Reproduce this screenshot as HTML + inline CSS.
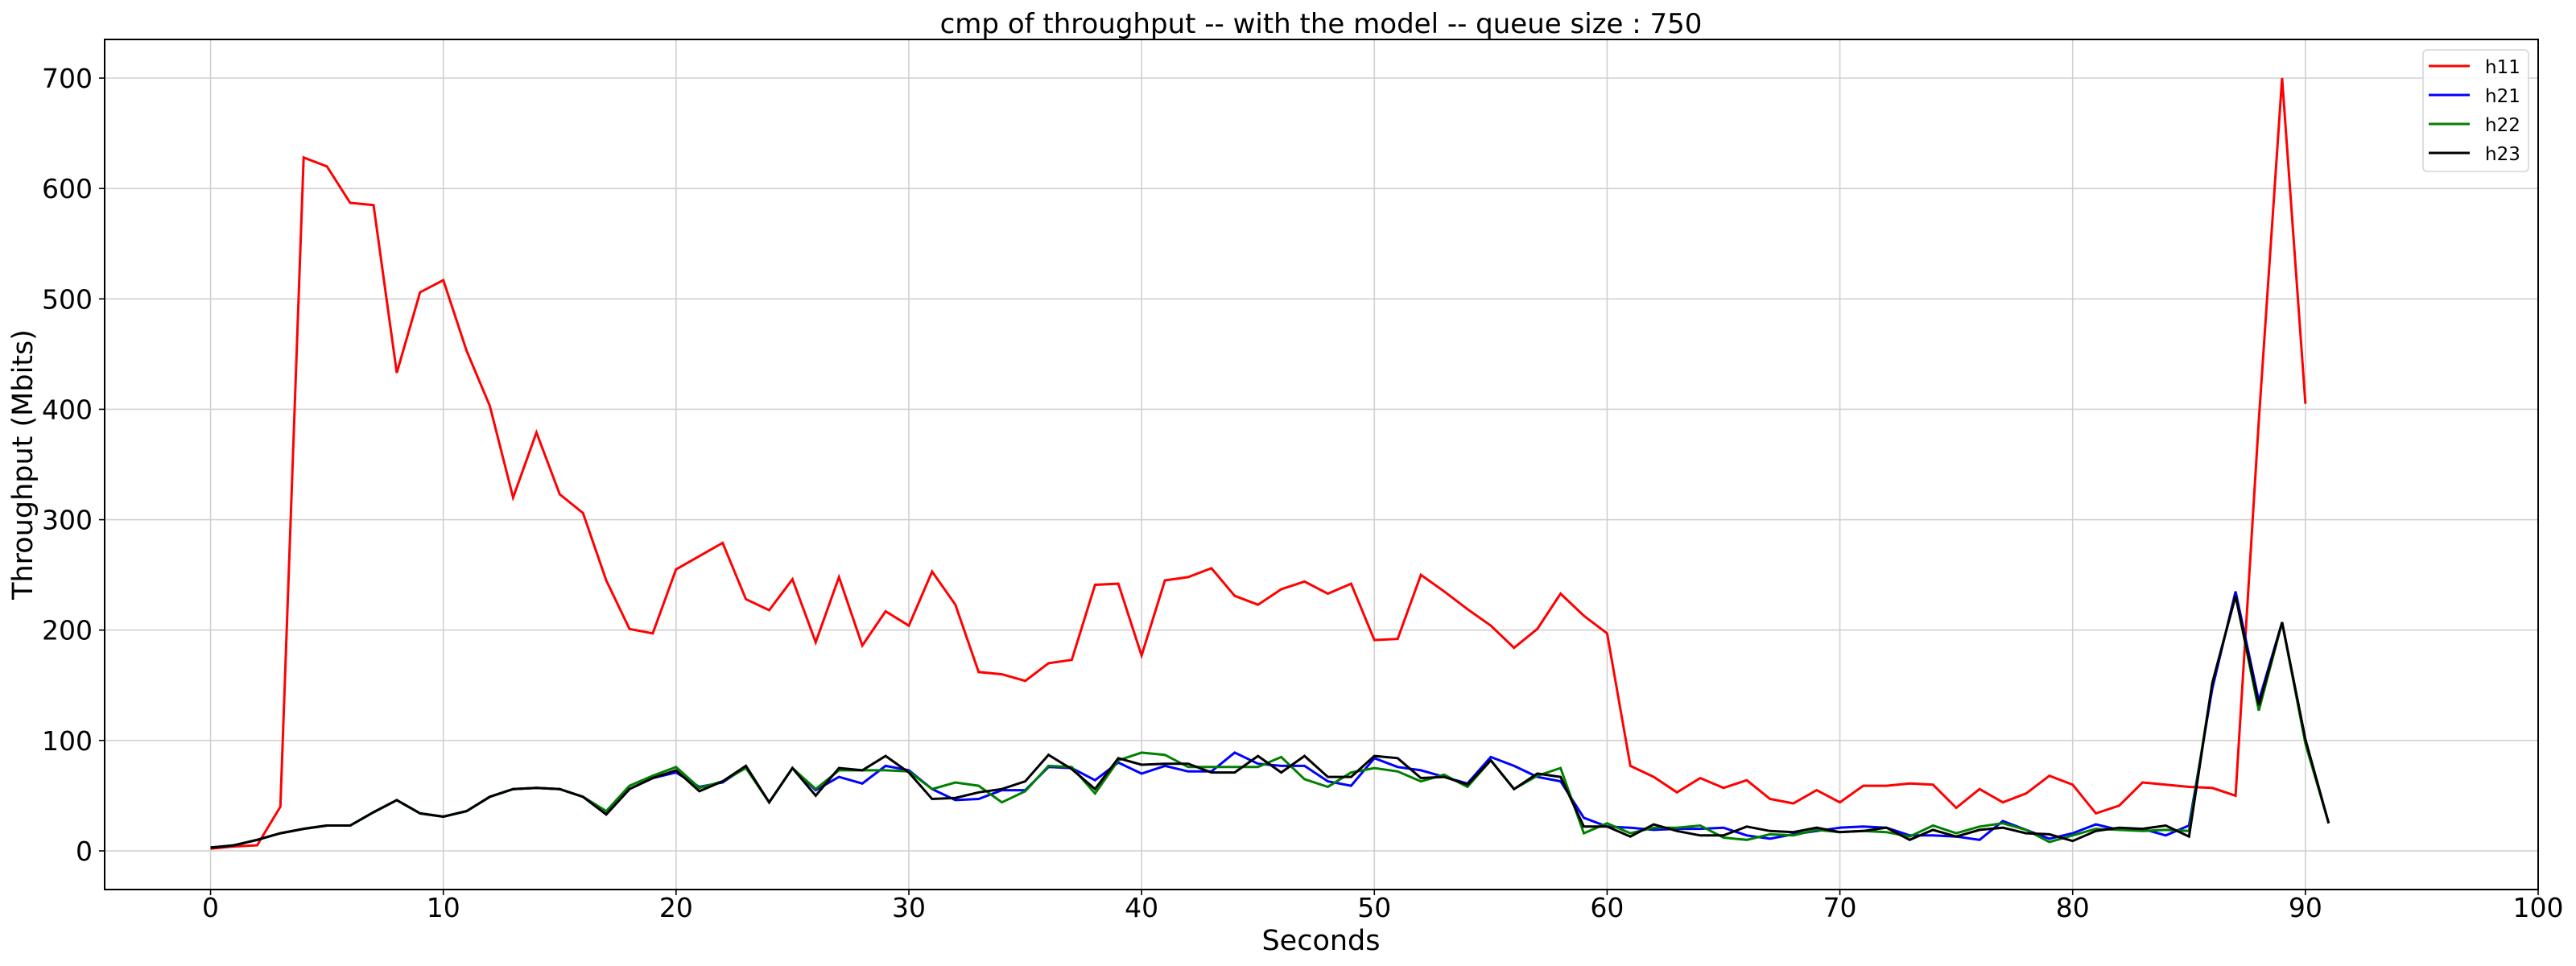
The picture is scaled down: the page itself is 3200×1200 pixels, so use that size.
<!DOCTYPE html>
<html><head><meta charset="utf-8"><style>
html,body{margin:0;padding:0;background:#fff;}
svg{display:block;font-family:"DejaVu Sans","Liberation Sans",sans-serif;}
</style></head><body>
<svg id="chart" width="3200" height="1200" viewBox="0 0 3200 1200" xmlns="http://www.w3.org/2000/svg">
<rect x="0" y="0" width="3200" height="1200" fill="#fff"/>
<g id="grid"></g>
<g id="series"></g>
<rect x="130" y="49" width="3023" height="1056" fill="none" stroke="#000" stroke-width="2"/>
<g id="ticks"></g>
<text x="1641" y="41" font-size="34" text-anchor="middle">cmp of throughput -- with the model -- queue size : 750</text>
<text x="1641" y="1180" font-size="35" text-anchor="middle">Seconds</text>
<text x="0" y="0" font-size="35" text-anchor="middle" transform="translate(40,577) rotate(-90)">Throughput (Mbits)</text>
<g id="legend"></g>
</svg>
<script>
const seriesNames = ["h11","h21","h22","h23"];
const seriesColors = ["#ff0000","#0000ff","#008000","#000000"];
const h11 = [2,4,5,40,628,620,587,585,433,506,517,453,403,320,379,323,306,245,201,197,255,267,279,228,218,246,189,248,186,217,204,253,223,162,160,154,170,173,241,242,177,245,248,256,231,223,237,244,233,242,191,192,250,235,219,204,184,201,233,213,197,77,67,53,66,57,64,47,43,55,44,59,59,61,60,39,56,44,52,68,60,34,41,62,60,58,57,50,390,700,405];
const h21 = [3,5,10,16,20,23,23,35,46,34,31,36,49,56,57,56,49,33,56,66,71,58,62,76,44,75,55,67,61,77,73,56,46,47,55,55,76,75,64,80,70,77,72,72,89,79,77,77,63,59,84,76,73,67,61,85,77,67,63,30,22,21,19,20,20,21,14,11,15,18,21,22,21,14,14,13,10,27,19,11,16,24,19,20,14,23,147,235,136,207,99,25];
const h22 = [3,5,10,16,20,23,23,35,46,34,31,36,49,56,57,56,49,36,59,68,76,57,63,75,44,75,56,73,73,73,72,56,62,59,44,54,77,76,52,82,89,87,76,76,76,76,85,65,58,71,75,72,63,69,58,82,56,68,75,16,25,16,21,21,23,12,10,15,14,19,17,18,17,13,23,16,22,25,19,8,14,20,19,18,19,18,152,231,127,207,97,25];
const h23 = [3,5,10,16,20,23,23,35,46,34,31,36,49,56,57,56,49,33,56,66,73,54,63,77,44,75,50,75,73,86,71,47,48,53,56,63,87,74,56,84,78,79,79,71,71,86,71,86,67,67,86,84,66,67,60,82,56,70,67,22,22,13,24,18,14,14,22,18,17,21,17,18,21,10,19,13,19,21,16,15,9,18,21,20,23,13,152,231,132,207,101,25];
const xTicks = [0,10,20,30,40,50,60,70,80,90,100];
const yTicks = [0,100,200,300,400,500,600,700];

const NS="http://www.w3.org/2000/svg";
const L=130,R=3153,T=49,B=1105,XMIN=-4.55,XMAX=100,YMIN=-35,YMAX=735;
function sx(v){return L+(v-XMIN)/(XMAX-XMIN)*(R-L);}
function sy(v){return B-(v-YMIN)/(YMAX-YMIN)*(B-T);}
function mk(tag,attrs,parent){const e=document.createElementNS(NS,tag);for(const k in attrs)e.setAttribute(k,attrs[k]);parent.appendChild(e);return e;}
const grid=document.getElementById('grid'),ticks=document.getElementById('ticks'),ser=document.getElementById('series'),leg=document.getElementById('legend');
xTicks.forEach(t=>{
  const x=sx(t);
  const g=mk('line',{x1:x,x2:x,y1:T,y2:B,stroke:'#d0d0d0','stroke-width':1.6},grid);
  
  
  const tk=mk('line',{x1:x,x2:x,y1:B,y2:B+7,stroke:'#000','stroke-width':1.6},ticks);
  
  
  const lb=mk('text',{x:x,y:1139,'font-size':33,'text-anchor':'middle'},ticks);
  
  
  lb.textContent=t;
});
yTicks.forEach(t=>{
  const y=sy(t);
  const g=mk('line',{x1:L,x2:R,y1:y,y2:y,stroke:'#d0d0d0','stroke-width':1.6},grid);
  
  
  const tk=mk('line',{x1:L-7,x2:L,y1:y,y2:y,stroke:'#000','stroke-width':1.6},ticks);
  
  
  const lb=mk('text',{x:115,y:y+12,'font-size':33,'text-anchor':'end'},ticks);
  
  
  lb.textContent=t;
});
[h11,h21,h22,h23].forEach((arr,i)=>{
  const pts=arr.map((v,k)=>sx(k).toFixed(1)+','+sy(v).toFixed(1)).join(' ');
  const pl=mk('polyline',{points:pts,fill:'none',stroke:seriesColors[i],'stroke-width':3,'stroke-linejoin':'miter'},ser);
  
  
});
const box=mk('rect',{x:3010,y:62,width:131,height:151,rx:5,fill:'#fff','fill-opacity':0.85,stroke:'#d6d6d6','stroke-width':1.6},leg);


seriesNames.forEach((n,i)=>{
  const y=82+i*36;
  const ln=mk('line',{x1:3017,x2:3068,y1:y,y2:y,stroke:seriesColors[i],'stroke-width':3},leg);
  
  
  const tx=mk('text',{x:3087,y:y+9,'font-size':23},leg);
  
  
  tx.textContent=n;
});
</script>
</body></html>
